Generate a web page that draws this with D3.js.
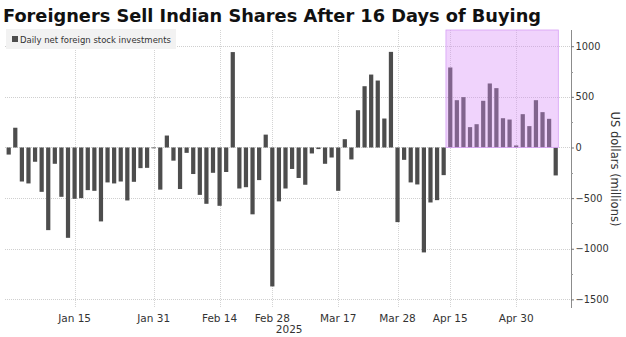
<!DOCTYPE html>
<html>
<head>
<meta charset="utf-8">
<script src="https://cdn.jsdelivr.net/npm/d3@7"></script>
<style>
  html, body { margin: 0; padding: 0; background: #fff; }
  svg { display: block; font-family: "DejaVu Sans", sans-serif; }
</style>
</head>
<body>
<figure id="flows" style="margin:0"></figure>
<script>
// trading days (MM-DD, 2025) and net foreign flows in US$ millions
const tradeDays = [
  "01-01","01-02","01-03","01-06","01-07","01-08","01-09","01-10","01-13","01-14","01-15",
  "01-16","01-17","01-20","01-21","01-22","01-23","01-24","01-27","01-28","01-29","01-30","01-31",
  "02-03","02-04","02-05","02-06","02-07","02-10","02-11","02-12","02-13","02-14",
  "02-17","02-18","02-20","02-21","02-24","02-25","02-27","02-28",
  "03-03","03-04","03-05","03-06","03-07","03-10","03-11","03-12","03-13","03-17",
  "03-18","03-19","03-20","03-21","03-24","03-25","03-26","03-27","03-28",
  "04-02","04-03","04-04","04-07","04-08","04-09","04-11","04-15",
  "04-16","04-17","04-21","04-22","04-23","04-24","04-25","04-28","04-29","04-30",
  "05-02","05-05","05-06","05-07","05-08","05-09"
];
const netFlows = [
  -70, 195, -336, -355, -141, -438, -816, -161, -487, -892, -507,
  -500, -421, -428, -730, -345, -355, -336, -523, -339, -204, -201, -8,
  -416, 118, -130, -410, -53, -262, -468, -556, -250, -576,
  -242, 942, -405, -392, -660, -322, 127, -1372,
  -532, -405, -212, -301, -368, -59, -16, -161, -99, -428,
  82, -118, 368, 605, 720, 661, 286, 944, -737,
  -122, -345, -365, -1036, -543, -520, -273, 790,
  467, 497, 201, 230, 461, 632, 586, 289, 276, 20,
  329, 211, 467, 349, 283, -276
];
const tickDays = ["01-15", "01-31", "02-14", "02-28", "03-17", "03-28", "04-15", "04-30"];
const tickNames = ["Jan 15", "Jan 31", "Feb 14", "Feb 28", "Mar 17", "Mar 28", "Apr 15", "Apr 30"];
const yTicks = [1000, 500, 0, -500, -1000, -1500];
const streakStart = "04-15";
const streakEnd = "05-08";

const W = 626, H = 337;
const plotLeft = 5.4, plotRight = 559, axisX = 571;
const plotTop = 30, plotBottom = 307;

const svg = d3.select("#flows").append("svg")
  .attr("width", W)
  .attr("height", H);

// title
svg.append("text")
  .attr("x", 3)
  .attr("y", 22)
  .attr("font-size", 18.5)
  .attr("font-weight", 700)
  .attr("textLength", 538)
  .attr("lengthAdjust", "spacingAndGlyphs")
  .attr("fill", "#111")
  .text("Foreigners Sell Indian Shares After 16 Days of Buying");

const x = d3.scaleBand()
  .domain(tradeDays)
  .range([plotLeft, plotRight])
  .paddingInner(0.36)
  .paddingOuter(0.18);

const y = d3.scaleLinear()
  .domain([-1575, 1160])
  .range([plotBottom, plotTop]);

// horizontal grid
svg.append("g")
  .selectAll("line")
  .data(yTicks)
  .enter()
  .append("line")
  .attr("x1", 5)
  .attr("x2", axisX)
  .attr("y1", d => Math.round(y(d)) + 0.5)
  .attr("y2", d => Math.round(y(d)) + 0.5)
  .attr("stroke", "#cfcfcf")
  .attr("stroke-dasharray", "1,1");

// vertical grid at labelled days
svg.append("g")
  .selectAll("line")
  .data(tickDays)
  .enter()
  .append("line")
  .attr("x1", d => Math.round(x(d) + x.bandwidth() / 2) + 0.5)
  .attr("x2", d => Math.round(x(d) + x.bandwidth() / 2) + 0.5)
  .attr("y1", plotTop)
  .attr("y2", plotBottom)
  .attr("stroke", "#d4d4d4")
  .attr("stroke-dasharray", "1,1");

// bars
svg.append("g")
  .selectAll("rect")
  .data(netFlows)
  .enter()
  .append("rect")
  .attr("x", (d, i) => x(tradeDays[i]))
  .attr("width", x.bandwidth())
  .attr("y", d => y(Math.max(0, d)))
  .attr("height", d => Math.abs(y(d) - y(0)))
  .attr("fill", "#4d4d4d");

// shaded buying streak
const x0 = x(streakStart) - x.step() * 0.36 / 2 - 1;
const x1 = x(streakEnd) + x.step() + x.bandwidth() + 0.5;
svg.append("rect")
  .attr("x", x0)
  .attr("y", plotTop)
  .attr("width", x1 - x0)
  .attr("height", y(0) - plotTop)
  .attr("fill", "rgb(215,140,248)")
  .attr("fill-opacity", 0.38)
  .attr("stroke", "rgb(215,160,245)")
  .attr("stroke-width", 0.8);

// legend
const legend = svg.append("g");
legend.append("rect")
  .attr("x", 6)
  .attr("y", 29)
  .attr("width", 170)
  .attr("height", 20)
  .attr("fill", "#f2f2f2");
legend.append("rect")
  .attr("x", 12)
  .attr("y", 36)
  .attr("width", 6)
  .attr("height", 6)
  .attr("fill", "#4d4d4d");
legend.append("text")
  .attr("x", 20)
  .attr("y", 43)
  .attr("font-size", 9.5)
  .attr("textLength", 151)
  .attr("lengthAdjust", "spacingAndGlyphs")
  .attr("fill", "#333")
  .text("Daily net foreign stock investments");

// right axis
const yAxis = svg.append("g")
  .attr("transform", `translate(${axisX},0)`)
  .call(d3.axisRight(y).tickValues(yTicks).tickSize(3).tickPadding(1.5).tickFormat(d3.format("d")));
yAxis.select(".domain")
  .attr("d", `M0.5,${plotTop}V${plotBottom + 1}`)
  .attr("stroke", "#8c8c8c");
yAxis.selectAll(".tick line").attr("stroke", "#777");
yAxis.selectAll(".tick text")
  .attr("font-size", 9.8)
  .attr("font-family", "DejaVu Sans")
  .attr("fill", "#333");

// minor ticks between labelled values
svg.append("g")
  .selectAll("line")
  .data(d3.range(-1250, 1001, 500))
  .enter()
  .append("line")
  .attr("x1", axisX)
  .attr("x2", axisX + 2)
  .attr("y1", d => Math.round(y(d)) + 0.5)
  .attr("y2", d => Math.round(y(d)) + 0.5)
  .attr("stroke", "#999");

svg.append("text")
  .attr("transform", `translate(611,169) rotate(90)`)
  .attr("text-anchor", "middle")
  .attr("font-size", 11.5)
  .attr("fill", "#333")
  .text("US dollars (millions)");

// x labels
svg.append("g")
  .selectAll("text")
  .data(tickDays)
  .enter()
  .append("text")
  .attr("x", d => x(d) + x.bandwidth() / 2)
  .attr("y", 322)
  .attr("text-anchor", "middle")
  .attr("font-size", 10.5)
  .attr("fill", "#333")
  .text((d, i) => tickNames[i]);

svg.append("text")
  .attr("x", (plotLeft + axisX) / 2 + 1)
  .attr("y", 333)
  .attr("text-anchor", "middle")
  .attr("font-size", 10.5)
  .attr("fill", "#333")
  .text("2025");
</script>
</body>
</html>
